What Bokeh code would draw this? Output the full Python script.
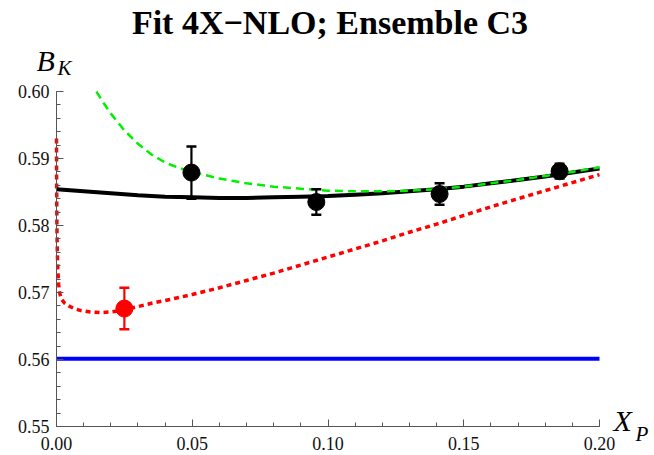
from bokeh.plotting import figure
from bokeh.models import (Range1d, FixedTicker, PrintfTickFormatter, Label,
                          ColumnDataSource, Whisker, TeeHead)
from bokeh.embed import file_html
from bokeh.resources import INLINE

# ---------------- data ----------------
black_x = [0.0497, 0.0957, 0.1411, 0.1853]
black_y = [0.5879, 0.5835, 0.5847, 0.5881]
black_err = [0.0039, 0.0019, 0.0016, 0.0011]

red_x = [0.0250]
red_y = [0.5676]
red_err = [0.0031]

fit_x = [0.00, 0.01, 0.02, 0.03, 0.04, 0.05, 0.06, 0.07, 0.08, 0.09, 0.10,
         0.11, 0.12, 0.13, 0.14, 0.15, 0.16, 0.17, 0.18, 0.19, 0.20]
fit_y = [0.5854, 0.5851, 0.5848, 0.5845, 0.5843, 0.5842, 0.5841, 0.5841, 0.5842, 0.5843, 0.5844,
         0.5846, 0.5848, 0.5851, 0.5854, 0.5858, 0.5863, 0.5868, 0.5873, 0.5879, 0.5885]

green_x = [0.01475, 0.0150, 0.0175, 0.0200, 0.0250, 0.0300, 0.0350, 0.0400, 0.0450, 0.0500,
           0.0600, 0.0700, 0.0800, 0.0900, 0.1000, 0.1100, 0.1200, 0.1300, 0.1400, 0.1500,
           0.1600, 0.1700, 0.1800, 0.1900, 0.2000]
green_y = [0.6000, 0.5998, 0.5982, 0.5967, 0.5942, 0.5922, 0.5906, 0.5894, 0.5886, 0.5880,
           0.5870, 0.5863, 0.5858, 0.5855, 0.5852, 0.5851, 0.5851, 0.5852, 0.5854, 0.5858,
           0.5863, 0.5868, 0.5874, 0.5880, 0.5887]

red_curve_x = [0.00000, 0.00005, 0.00015, 0.00030, 0.00050, 0.00080, 0.00120, 0.00180,
               0.00300, 0.00450, 0.00650, 0.00900, 0.01250, 0.01600, 0.02000, 0.02500,
               0.03000, 0.03500, 0.04000, 0.05000, 0.06000, 0.07000, 0.08000, 0.09000,
               0.10000, 0.11000, 0.12000, 0.13000, 0.14000, 0.15000, 0.16000, 0.17000,
               0.18000, 0.19000, 0.20000]
red_curve_y = [0.5930, 0.5860, 0.5800, 0.5760, 0.5733, 0.5712, 0.5699, 0.5690,
               0.5684, 0.5680, 0.5676, 0.5673, 0.5671, 0.5670, 0.5671, 0.5674,
               0.5679, 0.5684, 0.5688, 0.5697, 0.5707, 0.5718, 0.5729, 0.5741,
               0.5753, 0.5765, 0.5777, 0.5790, 0.5802, 0.5815, 0.5828, 0.5840,
               0.5852, 0.5864, 0.5876]

blue_level = 0.5601

x_ticks = [0.00, 0.05, 0.10, 0.15, 0.20]
y_ticks = [0.55, 0.56, 0.57, 0.58, 0.59, 0.60]

title_text = "Fit 4X\u2212NLO; Ensemble C3"

# ---------------- layout ----------------
W, H = 654, 455
FL, FR, FT, FB = 56, 599, 91, 426          # pixel box of the plotting area
x0, x1 = x_ticks[0], x_ticks[-1]
y0, y1 = y_ticks[0], y_ticks[-1]
sx = (x1 - x0) / (FR - FL)
sy = (y1 - y0) / (FB - FT)
xr = Range1d(x0 - FL * sx, x1 + (W - FR) * sx)
yr = Range1d(y0 - (H - FB) * sy, y1 + FT * sy)

FONT = "Liberation Serif"

p = figure(width=W, height=H, output_backend="svg", toolbar_location=None,
           x_range=xr, y_range=yr, title=None,
           min_border_left=0, min_border_right=0, min_border_top=0, min_border_bottom=0)
p.outline_line_color = None
p.grid.visible = False
p.background_fill_color = "white"
p.border_fill_color = "white"

x_minor = [round(i * 0.01, 4) for i in range(0, 21)]
y_minor = [round(0.55 + i * 0.002, 4) for i in range(0, 26)]

p.xaxis.ticker = FixedTicker(ticks=x_ticks, minor_ticks=x_minor)
p.yaxis.ticker = FixedTicker(ticks=y_ticks, minor_ticks=y_minor)
p.xaxis.formatter = PrintfTickFormatter(format="%.2f")
p.yaxis.formatter = PrintfTickFormatter(format="%.2f")
p.xaxis.fixed_location = y0
p.yaxis.fixed_location = x0
p.xaxis.bounds = (x0, x1)
p.yaxis.bounds = (y0, y1)

for ax in (p.xaxis[0], p.yaxis[0]):
    ax.axis_line_color = "#555555"
    ax.axis_line_width = 1
    ax.major_tick_line_color = "#555555"
    ax.minor_tick_line_color = "#555555"
    ax.major_tick_in = 7
    ax.major_tick_out = 0
    ax.minor_tick_in = 4
    ax.minor_tick_out = 0
    ax.major_label_text_font = FONT
    ax.major_label_text_font_size = "18px"
    ax.major_label_text_color = "#111111"

p.yaxis.major_label_standoff = 7
p.xaxis.major_label_standoff = 10

# curves
p.line([x0, x1], [blue_level, blue_level], line_color="#0000ff", line_width=4)
p.line(red_curve_x, red_curve_y, line_color="#ff0000", line_width=3.5, line_dash="5 4")
p.line(fit_x, fit_y, line_color="black", line_width=4)
p.line(green_x, green_y, line_color="#00f000", line_width=2.5, line_dash="8 5")

# error bars
bsrc = ColumnDataSource(dict(x=black_x, y=black_y,
                             upper=[y + e for y, e in zip(black_y, black_err)],
                             lower=[y - e for y, e in zip(black_y, black_err)]))
rsrc = ColumnDataSource(dict(x=red_x, y=red_y,
                             upper=[y + e for y, e in zip(red_y, red_err)],
                             lower=[y - e for y, e in zip(red_y, red_err)]))
for src, col in ((bsrc, "black"), (rsrc, "#ff0000")):
    p.add_layout(Whisker(source=src, base="x", upper="upper", lower="lower",
                         line_color=col, line_width=2.2, level="glyph",
                         upper_head=TeeHead(size=10, line_color=col, line_width=2.5),
                         lower_head=TeeHead(size=10, line_color=col, line_width=2.5)))

p.scatter("x", "y", source=bsrc, size=17, fill_color="black", line_color="black")
p.scatter("x", "y", source=rsrc, size=17, fill_color="#ff0000", line_color="#ff0000")

# title and axis symbols
p.add_layout(Label(x=0.10, y=y1, x_offset=2, y_offset=FT - 22, text=title_text,
                   text_align="center", text_baseline="alphabetic", text_font=FONT,
                   text_font_style="bold", text_font_size="34px", text_color="black"))
p.add_layout(Label(x=x0, y=y1, x_offset=-20, y_offset=FT - 60, text="B",
                   text_baseline="alphabetic", text_font=FONT, text_font_style="italic",
                   text_font_size="30px", text_color="black"))
p.add_layout(Label(x=x0, y=y1, x_offset=1, y_offset=FT - 67, text="K",
                   text_baseline="alphabetic", text_font=FONT, text_font_style="italic",
                   text_font_size="21px", text_color="black"))
p.add_layout(Label(x=x1, y=y0, x_offset=14, y_offset=FB - 420, text="X",
                   text_baseline="alphabetic", text_font=FONT, text_font_style="italic",
                   text_font_size="30px", text_color="black"))
p.add_layout(Label(x=x1, y=y0, x_offset=36, y_offset=FB - 433, text="P",
                   text_baseline="alphabetic", text_font=FONT, text_font_style="italic",
                   text_font_size="21px", text_color="black"))

open("out.html", "w").write(file_html(p, INLINE))
